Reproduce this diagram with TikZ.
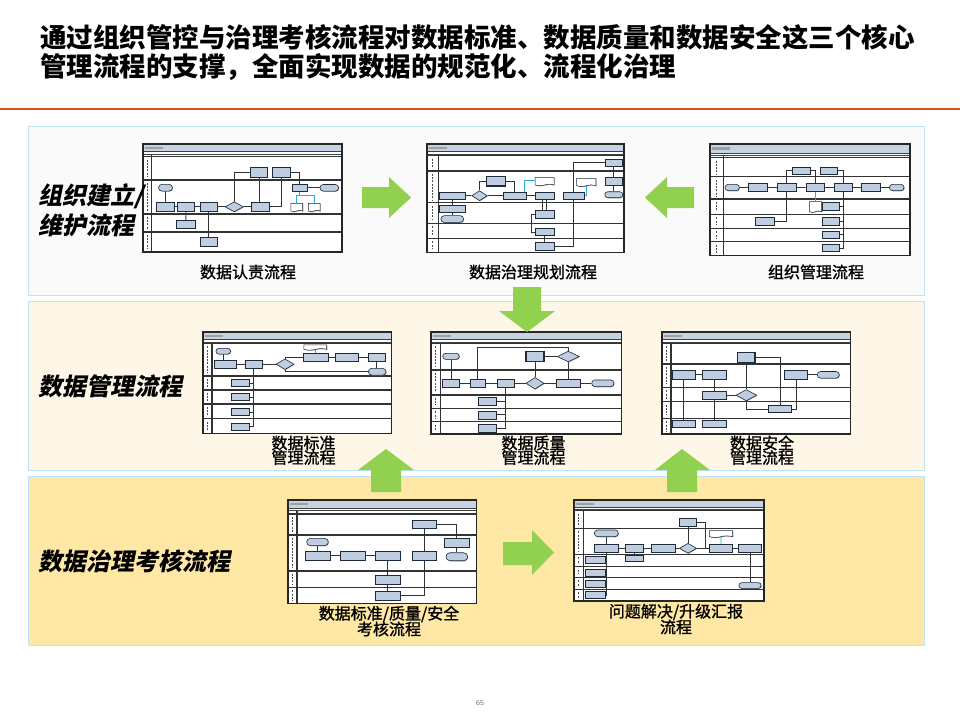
\documentclass[tikz,border=0pt]{standalone}
\usepackage{fontspec}
\setmainfont{Liberation Sans}
\newfontfamily\cjk{Noto Sans CJK SC}
\newfontfamily\cjkm[FakeBold=1.2]{Noto Sans CJK SC}
\newfontfamily\cjksl[FakeSlant=0.2]{Noto Sans CJK SC}
\usetikzlibrary{shapes.geometric,shapes.misc,shapes.symbols,shadows}
\pgfdeclarelayer{bg}\pgfdeclarelayer{conn}\pgfsetlayers{bg,conn,main}
\definecolor{boxfill}{HTML}{BFCDE1}
\definecolor{boxln}{HTML}{1E2B3A}
\definecolor{barfill}{HTML}{C6D3E0}
\definecolor{connc}{HTML}{333333}
\definecolor{cyanln}{HTML}{29ABE2}
\definecolor{garrow}{HTML}{92D050}
\definecolor{redline}{HTML}{D9531E}
\definecolor{pedge}{HTML}{BDE3F7}
\definecolor{pone}{HTML}{FAFAFA}
\definecolor{ptwo}{HTML}{FEF7E8}
\definecolor{pthree}{HTML}{FFE8A5}
\tikzset{
 barln/.style={draw=black!75,line width=0.6pt},
 laneln/.style={draw=black!80,line width=1.4pt},
 frameln/.style={draw=black!85,line width=1.3pt},
 colmark/.style={draw=black!70,line width=1.6pt,dash pattern=on 2pt off 1.2pt},
 shd/.style={drop shadow={shadow xshift=0.6pt,shadow yshift=-0.6pt,fill=black!55,opacity=0.7}},
 fb/.style={draw=boxln,fill=boxfill,line width=0.6pt,inner sep=0pt,shd},
 ft/.style={fb,rounded rectangle},
 fd/.style={fb,diamond},
 fk/.style={fb,line width=1.2pt},
 fdoc/.style={draw=boxln,fill=white,line width=0.5pt,inner sep=0pt,tape,tape bend top=none,tape bend height=1.5pt,shd},
 sz/.style 2 args={minimum width=#1pt,minimum height=#2pt},
 cn/.style={draw=connc,line width=0.8pt},
 cy/.style={draw=cyanln,line width=0.9pt},
 panel/.style={draw=pedge,line width=1pt},
 garr/.style={fill=garrow},
 lbl/.style={font=\cjkm\fontsize{16}{16}\selectfont,inner sep=0pt},
 sect/.style={font=\cjksl\bfseries\fontsize{24}{28}\selectfont,inner sep=0pt,anchor=west},
 ttl/.style={font=\cjk\bfseries\fontsize{26.5}{30}\selectfont,inner sep=0pt,anchor=west}
}
\newcommand\ThFrame[5]{%
 \begin{pgfonlayer}{bg}
 \fill[white] (0,0) rectangle (#1,#2);
 \fill[barfill] (0,0) rectangle (#1,#4);
 \fill[gray!75] (2,0.35*#4) rectangle (20,0.65*#4);
 \draw[barln] (0,#4) -- (#1,#4);
 \draw[barln] (0,#4+2.4) -- (#1,#4+2.4);
 \foreach \ya/\yb in {#5}{%
   \draw[laneln] (0,\ya) -- (#1,\ya);
   \draw[colmark] (#3/2,\ya+3) -- (#3/2,\yb-3);
 }
 \draw[laneln] (#3,#4+2.4) -- (#3,#2);
 \draw[frameln] (0,0) rectangle (#1,#2);
 \end{pgfonlayer}}
\begin{document}
\begin{tikzpicture}[x=1pt,y=-1pt]
\useasboundingbox (0,0) rectangle (960,720);
\begin{pgfonlayer}{bg}
\fill[white] (0,0) rectangle (960,720);
\draw[redline,line width=1.2pt] (0,109) -- (960,109);
\draw[panel,fill=pone] (28,126.7) rectangle (924,295);
\draw[panel,fill=ptwo] (28,301) rectangle (924,470);
\draw[panel,fill=pthree] (28,476.5) rectangle (924,645.5);
\end{pgfonlayer}

% title
\node[ttl] (ttl1) at (40,37) {通过组织管控与治理考核流程对数据标准、数据质量和数据安全这三个核心};
\node[ttl] (ttl2) at (40,67) {管理流程的支撑，全面实现数据的规范化、流程化治理};

% section labels
\node[sect] (s1a) at (38,196) {组织建立/};
\node[sect] (s1b) at (38,225) {维护流程};
\node[sect] (s2) at (38,386) {数据管理流程};
\node[sect] (s3) at (38,561) {数据治理考核流程};

% ---------- Thumb 1 ----------
\begin{scope}[shift={(143,144)}]
\ThFrame{199}{108}{8.7}{7.7}{12.7/36,36/70,70/88,88/108}
\node[ft,sz={14}{6.7}] (a1s) at (22.5,43.7) {};
\node[fb,sz={17.7}{8.3}] (a1a) at (22.5,62.8) {};
\node[fb,sz={16.7}{8.3}] (a1b) at (43,62.8) {};
\node[fb,sz={17.3}{8.3}] (a1c) at (65.7,62.8) {};
\node[fd,sz={18.3}{10}] (a1d) at (91.2,62.8) {};
\node[fb,sz={17.3}{8.3}] (a1e) at (117.3,62.8) {};
\node[fk,sz={17}{10.3}] (a1f) at (116.2,28.5) {};
\node[fb,sz={17.3}{10.3}] (a1g) at (138.3,28.5) {};
\node[fb,sz={15}{7.7}] (a1h) at (156.8,43.8) {};
\node[ft,sz={18.7}{6.7}] (a1t) at (186.3,43.8) {};
\node[fdoc,sz={11.7}{8.3}] (a1p) at (153.8,62.8) {};
\node[fdoc,sz={11.7}{8.3}] (a1q) at (171.2,62.8) {};
\node[fb,sz={18.3}{8.3}] (a1i) at (42.8,80.2) {};
\node[fb,sz={17.3}{9}] (a1j) at (65.7,98.2) {};
\coordinate (a1y) at (153.8,51);
\begin{pgfonlayer}{conn}
\draw[cn] (a1s) -- (a1a);
\draw[cn] (a1a) -- (a1b) -- (a1c) -- (a1d) -- (a1e);
\draw[cn] (a1b) -- (a1i);
\draw[cn] (a1c) -- (a1j);
\draw[cn] (a1d.north) |- (a1f.west);
\draw[cn,line width=1.2pt] (a1f.south) -- (a1f.south |- a1e.north);
\draw[cn] (a1e.east) -| (a1g.south);
\draw[cn] (a1g.east) -| (a1h.north);
\draw[cn] (a1h) -- (a1t);
\draw[cy] (a1h.south) -- (a1h.south |- a1y);
\draw[cy] (a1p.north) -- (a1y) -| (a1q.north);
\end{pgfonlayer}
\end{scope}

% ---------- Thumb 2 ----------
\begin{scope}[shift={(427,144)}]
\ThFrame{197}{108.3}{11.3}{7.7}{11.7/27,27/58.7,58.7/79.3,79.3/94.3,94.3/108.3}
\node[fb,sz={17.7}{7.7}] (b1) at (186.8,18.8) {};
\node[fb,sz={17.7}{7.3}] (b2) at (186.8,37.3) {};
\node[ft,sz={18}{6}] (b3) at (186.8,50.7) {};
\node[fb,sz={25.7}{6.7}] (b4) at (25.2,51.7) {};
\node[fd,sz={15.7}{10}] (b5) at (52.5,51.7) {};
\node[fk,sz={19}{9.3}] (b6) at (69.2,37.3) {};
\node[fb,sz={22.7}{7.3}] (b7) at (87.7,51.7) {};
\node[fdoc,sz={19}{8.3}] (b8) at (117.5,36.8) {};
\node[fb,sz={19}{7.3}] (b9) at (117.5,51.7) {};
\node[fdoc,sz={19.3}{8}] (b10) at (159.3,37.7) {};
\node[fb,sz={20.7}{6.7}] (b11) at (146.7,51.7) {};
\node[fb,sz={25.7}{7}] (b12) at (25.2,65.2) {};
\node[ft,sz={22.7}{6.7}] (b13) at (25.2,75) {};
\node[fb,sz={19}{8.3}] (b14) at (117.5,70.2) {};
\node[fb,sz={19}{7.3}] (b15) at (117.5,88) {};
\node[fb,sz={19}{7.7}] (b16) at (117.5,102) {};
\begin{pgfonlayer}{conn}
\draw[cn] (b4) -- (b5) -- (b7) -- (b9);
\draw[cn] (b5.north) |- (b6.west);
\draw[cn] (b6.east) -| (b7.north);
\draw[cy] ([xshift=-2pt]b7.north east) |- (b8.west);
\draw[cn] ([xshift=-2pt]b9.south) -- ([xshift=-2pt]b14.north);
\draw[cn] ([xshift=2pt]b9.south) -- ([xshift=2pt]b14.north);
\draw[cn] (b14.west) -- ([xshift=-3pt]b14.west) |- (b15.west);
\draw[cn] (b15) -- (b16);
\draw[cn] (b16.east) -| (b11.south);
\draw[cn] (b11.north) |- (b1.west);
\draw[cn] (b1) -- (b2) -- (b3);
\draw[cy] (b10.south) |- (b11.east);
\draw[cn] (b4) -- (b12) -- (b13);
\end{pgfonlayer}
\end{scope}

% ---------- Thumb 3 ----------
\begin{scope}[shift={(710,144)}]
\ThFrame{200}{111.7}{13.3}{9.3}{13.7/32.7,32.7/55,55/70.3,70.3/84.3,84.3/97.7,97.7/111.7}
\node[fk,sz={18}{7}] (c1) at (91.7,26.8) {};
\node[fb,sz={17}{7}] (c2) at (119.2,26.8) {};
\node[ft,sz={14.3}{6.3}] (c3) at (22.2,43.5) {};
\node[fb,sz={19}{8.3}] (c4) at (47.8,43.5) {};
\node[fb,sz={18.7}{8.3}] (c5) at (76.7,43.5) {};
\node[fb,sz={18}{8.3}] (c6) at (105,43.5) {};
\node[fb,sz={18.3}{8.3}] (c7) at (133.2,43.5) {};
\node[fb,sz={18.3}{8.3}] (c8) at (160.8,43.5) {};
\node[ft,sz={14.7}{6.3}] (c9) at (186.7,43.5) {};
\node[fdoc,sz={12.3}{10.7}] (c10) at (105.5,62.3) {};
\node[fb,sz={16.3}{7.3}] (c11) at (120.8,62.3) {};
\node[fb,sz={19}{7.7}] (c12) at (54.5,77.2) {};
\node[fb,sz={16.3}{7.3}] (c13) at (120.8,77.2) {};
\node[fb,sz={16.3}{7.3}] (c14) at (120.8,90.7) {};
\node[fb,sz={16.3}{7.3}] (c15) at (120.8,104) {};
\begin{pgfonlayer}{conn}
\draw[cn] (c3) -- (c4) -- (c5) -- (c6) -- (c7) -- (c8) -- (c9);
\draw[cn] (c5.north) |- (c1.west);
\draw[cn] (c5.south) |- (c12.east);
\draw[cn] (c1.east) -| (c6.north);
\draw[cn] (c2.east) -| (c7.north);
\draw[cn] (c11.east) -| (c7.south);
\draw[cn] (c13.east) -| (c7.south);
\draw[cn] (c14.east) -| (c7.south);
\draw[cn] (c15.east) -| (c7.south);
\draw[cy] (c6.south) -- (c6.south |- c10.north);
\end{pgfonlayer}
\end{scope}

% ---------- Thumb 4 ----------
\begin{scope}[shift={(203,332)}]
\ThFrame{188.7}{101.3}{9}{7.7}{11.3/44,44/58,58/72,72/86.7,86.7/101.3}
\node[ft,sz={14.7}{5.7}] (d1) at (20.3,19.2) {};
\node[fb,sz={22}{8.3}] (d2) at (22,32.2) {};
\node[fb,sz={17.7}{8.3}] (d3) at (50.8,32.2) {};
\node[fd,sz={18}{10.7}] (d4) at (82,32.2) {};
\node[fdoc,sz={22.7}{5.3}] (d5) at (112.3,14.7) {};
\node[fb,sz={25}{8.3}] (d6) at (112.8,25.5) {};
\node[fb,sz={23.3}{8.3}] (d7) at (143.7,25.5) {};
\node[fb,sz={16.7}{8.3}] (d8) at (173.7,25.5) {};
\node[ft,sz={17.7}{6.7}] (d9) at (174.2,39.7) {};
\node[fb,sz={17.7}{7.3}] (d10) at (37.5,51) {};
\node[fb,sz={17.7}{7.3}] (d11) at (37.5,65) {};
\node[fb,sz={17.7}{7.3}] (d12) at (37.5,80) {};
\node[fb,sz={17.7}{7.3}] (d13) at (37.5,94.7) {};
\begin{pgfonlayer}{conn}
\draw[cn] (d1.south) -- (d1.south |- d2.north);
\draw[cn] (d2) -- (d3) -- (d4);
\draw[cn] (d4.north) |- (d6.west);
\draw[cn] (d4.south) |- (d9.west);
\draw[cy] (d5) -- (d6);
\draw[cn] (d6) -- (d7) -- (d8);
\draw[cn] (d8.south) -- (d8.south |- d9.north);
\draw[cn] (d10.east) -| (d3.south);
\draw[cn] (d11.east) -| (d3.south);
\draw[cn] (d12.east) -| (d3.south);
\draw[cn] (d13.east) -| (d3.south);
\end{pgfonlayer}
\end{scope}

% ---------- Thumb 5 ----------
\begin{scope}[shift={(431,332)}]
\ThFrame{190.7}{102}{9.3}{7.7}{11.3/38,38/63,63/76.3,76.3/89.7,89.7/102}
\node[ft,sz={16.7}{6}] (e1) at (20,24.3) {};
\node[fk,sz={18}{10}] (e2) at (104,24.5) {};
\node[fd,sz={22}{10.7}] (e3) at (137.3,24.5) {};
\node[fb,sz={16.7}{8}] (e4) at (20,51.3) {};
\node[fb,sz={14.3}{8}] (e5) at (46.8,51.3) {};
\node[fb,sz={16.7}{8}] (e6) at (74.7,51.3) {};
\node[fd,sz={18}{11.7}] (e7) at (104,51.3) {};
\node[fb,sz={23.3}{8}] (e8) at (137.3,51.3) {};
\node[ft,sz={22.3}{6.7}] (e9) at (171.8,51.3) {};
\node[fb,sz={18.3}{8}] (e10) at (56.5,69.7) {};
\node[fb,sz={18.3}{8}] (e11) at (56.5,82.8) {};
\node[fb,sz={18.3}{8}] (e12) at (56.5,96.2) {};
\coordinate (e5c) at (46.8,15.3);
\begin{pgfonlayer}{conn}
\draw[cn] (e1) -- (e4);
\draw[cn] (e4) -- (e5) -- (e6) -- (e7) -- (e8) -- (e9);
\draw[cn] (e5.north) -- (e5c) -| (e3.north);
\draw[cn] (e2) -- (e3);
\draw[cn] (e3) -- (e8);
\draw[cn] (e2) -- (e7);
\draw[cn] (e10.east) -| (e6.south);
\draw[cn] (e11.east) -| (e6.south);
\draw[cn] (e12.east) -| (e6.south);
\end{pgfonlayer}
\end{scope}

% ---------- Thumb 6 ----------
\begin{scope}[shift={(662,332)}]
\ThFrame{188.3}{102}{9}{7.7}{11.3/32,32/55.3,55.3/69.7,69.7/86.3,86.3/102}
\node[fk,sz={17.7}{10}] (f1) at (84.2,25.3) {};
\node[fb,sz={22.3}{8.3}] (f2) at (21.8,42.8) {};
\node[fb,sz={23.3}{8.3}] (f3) at (52.3,42.8) {};
\node[fb,sz={23.3}{8.3}] (f4) at (134,42.8) {};
\node[ft,sz={22}{6.7}] (f5) at (166.3,42.8) {};
\node[fb,sz={23.3}{8.3}] (f6) at (52.3,63.2) {};
\node[fd,sz={20.7}{11.3}] (f7) at (84.3,63.2) {};
\node[fb,sz={23.3}{6.7}] (f8) at (118,77) {};
\node[fb,sz={22.3}{7.7}] (f9) at (21.8,91.8) {};
\node[fb,sz={23.3}{7.7}] (f10) at (52.3,91.8) {};
\begin{pgfonlayer}{conn}
\draw[cn] (f2) -- (f3);
\draw[cn] (f4) -- (f5);
\draw[cn] (f2) -- (f9);
\draw[cn] (f3) -- (f6) -- (f10);
\draw[cn] (f6) -- (f7);
\draw[cn] (f1.east) -| (f8.north);
\draw[cn] (f1.south) -- (f1.south |- f7.north);
\draw[cn] (f7.south) |- (f8.west);
\draw[cn] (f8.east) -| (f4.south);
\end{pgfonlayer}
\end{scope}

% ---------- Thumb 7 ----------
\begin{scope}[shift={(288,500)}]
\ThFrame{188.3}{103.3}{9}{8.3}{14/35,35/71,71/87.3,87.3/103.3}
\node[fb,sz={24.3}{7.7}] (g1) at (136.5,24.5) {};
\node[ft,sz={21.7}{7.3}] (g2) at (29.5,42) {};
\node[fb,sz={25}{9}] (g3) at (168.8,42.8) {};
\node[ft,sz={21.7}{8}] (g4) at (168.8,56.7) {};
\node[fb,sz={25}{9}] (g5) at (30.2,55.5) {};
\node[fb,sz={25}{9}] (g6) at (64.5,55.5) {};
\node[fb,sz={24.3}{9}] (g7) at (99.8,55.5) {};
\node[fb,sz={24.3}{9}] (g8) at (136.5,55.5) {};
\node[fb,sz={24.3}{8.3}] (g9) at (99.8,79.8) {};
\node[fb,sz={24.3}{8.3}] (g10) at (99.8,95.8) {};
\begin{pgfonlayer}{conn}
\draw[cn] (g2.south) -- (g2.south |- g5.north);
\draw[cn] (g5) -- (g6) -- (g7);
\draw[cn] (g7) -- (g9) -- (g10);
\draw[cn] (g10.east) -| (g8.south);
\draw[cn] (g8) -- (g1);
\draw[cn] (g1.east) -| (g3.north);
\draw[cn] (g3) -- (g4);
\end{pgfonlayer}
\end{scope}

% ---------- Thumb 8 ----------
\begin{scope}[shift={(574,500)}]
\ThFrame{190}{101}{9.3}{7.3}{10.7/28.3,28.3/54.3,54.3/66.7,66.7/77.3,77.3/89.3,89.3/101}
\node[fk,sz={17.3}{8.3}] (h1) at (114,22.5) {};
\node[ft,sz={24}{6.7}] (h2) at (32.3,33.3) {};
\node[fdoc,sz={23.3}{6.7}] (h3) at (147,33.3) {};
\node[fb,sz={24}{8}] (h4) at (32.3,48.3) {};
\node[fb,sz={18.3}{8}] (h5) at (60.2,48.3) {};
\node[fb,sz={24}{8}] (h6) at (89,48.3) {};
\node[fd,sz={17.3}{10}] (h7) at (114,48.3) {};
\node[fb,sz={23.3}{8}] (h8) at (147,48.3) {};
\node[fb,sz={23.3}{8}] (h9) at (176,48.3) {};
\node[fb,sz={18.3}{6}] (h10) at (60.2,58.7) {};
\node[fb,sz={20}{7}] (h11) at (21,59.5) {};
\node[fb,sz={20}{7}] (h12) at (21,72.5) {};
\node[fb,sz={20}{7}] (h13) at (21,83.3) {};
\node[fb,sz={20}{7}] (h14) at (21,95) {};
\node[ft,sz={22.3}{5.7}] (h15) at (176,85.5) {};
\coordinate (h1c) at (131.7,48.3);
\begin{pgfonlayer}{conn}
\draw[cn] (h2) -- (h4);
\draw[cn] (h4) -- (h5) -- (h6) -- (h7) -- (h8) -- (h9);
\draw[cn] (h5) -- (h10);
\draw[cn] (h7) -- (h1);
\draw[cn] (h1.east) -| (h1c);
\draw[cy] (h3) -- (h8);
\draw[cn] (h9) -- (h15);
\draw[cn] (h11.east) -| (h4.south);
\draw[cn] (h12.east) -| (h4.south);
\draw[cn] (h13.east) -| (h4.south);
\draw[cn] (h14.east) -| (h4.south);
\end{pgfonlayer}
\end{scope}

% thumbnail labels
\node[lbl] (l1) at (248,272) {数据认责流程};
\node[lbl] (l2) at (533,272) {数据治理规划流程};
\node[lbl] (l3) at (816,272) {组织管理流程};
\node[lbl] (l4a) at (303.5,443) {数据标准};
\node[lbl] (l4b) at (303.5,457.5) {管理流程};
\node[lbl] (l5a) at (533.5,443) {数据质量};
\node[lbl] (l5b) at (533.5,457.5) {管理流程};
\node[lbl] (l6a) at (762,443) {数据安全};
\node[lbl] (l6b) at (762,457.5) {管理流程};
\node[lbl] (l7a) at (389,614) {数据标准/质量/安全};
\node[lbl] (l7b) at (389,629) {考核流程};
\node[lbl] (l8a) at (676,612) {问题解决/升级汇报};
\node[lbl] (l8b) at (676,627) {流程};

% green block arrows
\fill[garr] (362,187) -- (389,187) -- (389,177) -- (411,197.5) -- (389,218) -- (389,208) -- (362,208) -- cycle;
\fill[garr] (694,187) -- (667,187) -- (667,177) -- (645,197.5) -- (667,218) -- (667,208) -- (694,208) -- cycle;
\fill[garr] (513,287) -- (541,287) -- (541,311) -- (555,311) -- (527,332) -- (499,311) -- (513,311) -- cycle;
\fill[garr] (371,492) -- (371,470) -- (358,470) -- (386,449) -- (414,470) -- (401,470) -- (401,492) -- cycle;
\fill[garr] (667,492) -- (667,470) -- (655,470) -- (682,449) -- (710,470) -- (697,470) -- (697,492) -- cycle;
\fill[garr] (503,542) -- (532,542) -- (532,530) -- (554,552.5) -- (532,575) -- (532,565) -- (503,565) -- cycle;

% page number
\node[font=\fontsize{7}{8}\selectfont,text=black!55,inner sep=0pt] (pg) at (480,703) {65};
\end{tikzpicture}
\end{document}
